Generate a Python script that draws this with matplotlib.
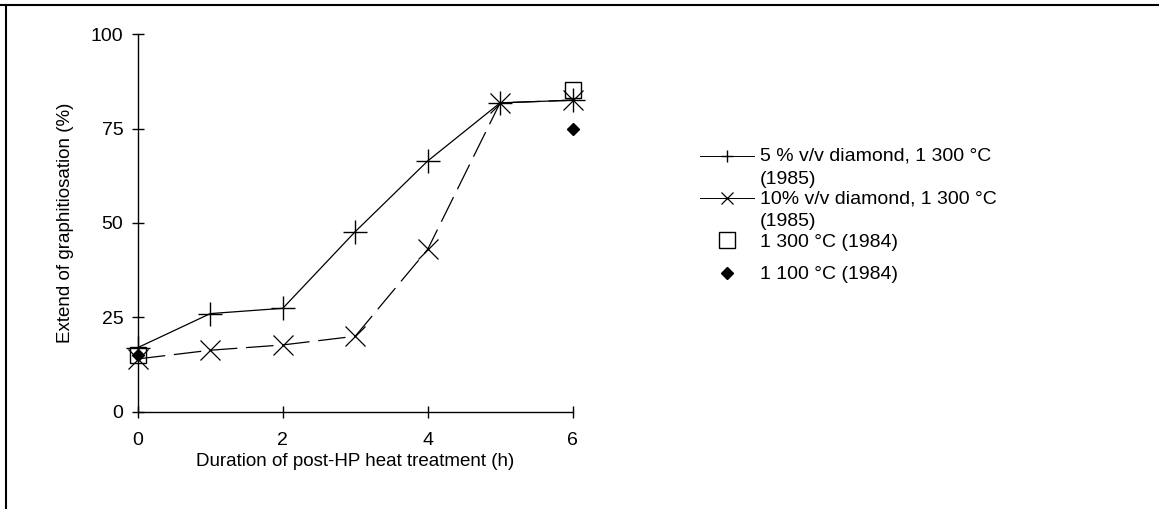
import matplotlib
matplotlib.use('Agg')
import matplotlib.pyplot as plt
import numpy as np
from matplotlib.lines import Line2D
from matplotlib.legend_handler import HandlerLine2D

plt.rcParams['font.family'] = ['Liberation Sans', 'DejaVu Sans']

# duration of post-HP heat treatment (h)
hours = [0, 1, 2, 3, 4, 5, 6]
# extent of graphitisation (%)
pct_5 = [17, 26, 27.4, 47.7, 66.4, 81.8, 82.5]
pct_10 = [14, 16.3, 17.7, 20, 43, 81.8, 82.5]
hours_1984 = [0, 6]
pct_1300_1984 = [15, 85.2]
pct_1100_1984 = [15, 74.8]

labels = ['5 % v/v diamond, 1 300 °C\n(1985)',
          '10% v/v diamond, 1 300 °C\n(1985)',
          '1 300 °C (1984)',
          '1 100 °C (1984)']


class FirstLineHandler(HandlerLine2D):
    # put the handle next to the first line of a two line label
    def create_artists(self, legend, orig_handle, xdescent, ydescent, width, height, fontsize, trans):
        arts = super().create_artists(legend, orig_handle, xdescent, ydescent, width, height,
                                      fontsize, trans)
        for a in arts:
            a.set_ydata(np.asarray(a.get_ydata(), dtype=float) + 0.6 * fontsize)
        return arts


fig = plt.figure(figsize=(11.59, 5.09), dpi=100)
ax = fig.add_axes([0.119, 0.191, 0.375, 0.742])

l5, = ax.plot(hours, pct_5, color='black', lw=0.9, marker='+', ms=17, mew=1.0, clip_on=False,
              label=labels[0])
l10, = ax.plot(hours, pct_10, color='black', lw=0.9, ls=(0, (22, 7)), marker='x', ms=15, mew=0.9,
               clip_on=False, label=labels[1])
sq, = ax.plot(hours_1984, pct_1300_1984, ls='none', marker='s', ms=11, mfc='none', mec='black',
              mew=1.0, clip_on=False, label=labels[2])
dm, = ax.plot(hours_1984, pct_1100_1984, ls='none', marker='D', ms=6, color='black',
              clip_on=False, label=labels[3])

ax.set_xlim(0, 6)
ax.set_ylim(0, 100)
ax.set_xticks([0, 2, 4, 6])
ax.set_yticks([0, 25, 50, 75, 100])
for s in ['top', 'right']:
    ax.spines[s].set_visible(False)
for s in ['left', 'bottom']:
    ax.spines[s].set_linewidth(1.0)
ax.tick_params(direction='inout', length=9, width=1.0, labelsize=14)
ax.tick_params(axis='x', pad=10)
ax.tick_params(axis='y', pad=6)
ax.set_xlabel('Duration of post-HP heat treatment (h)', fontsize=13.5, labelpad=3)
ax.set_ylabel('Extend of graphitiosation (%)', fontsize=13.5, labelpad=12)

hmap = {l5: FirstLineHandler(), l10: FirstLineHandler()}
leg = ax.legend([l5, l10, sq], labels[:3], handler_map=hmap, loc='upper left',
                bbox_to_anchor=(0.597, 0.725), bbox_transform=fig.transFigure,
                frameon=False, fontsize=14, handlelength=2.8, handletextpad=0.3,
                labelspacing=0.15, borderaxespad=0)
for t in leg.get_texts():
    t.set_linespacing(1.45)
for h in leg.legend_handles[:2]:
    h.set_markersize(9)
    h.set_linestyle('-')
    h.set_linewidth(0.7)
ax.add_artist(leg)
ax.legend([dm], labels[3:], loc='upper left', bbox_to_anchor=(0.597, 0.493),
          bbox_transform=fig.transFigure, frameon=False, fontsize=14, handlelength=2.8,
          handletextpad=0.3, borderaxespad=0)

# border of the original figure frame
fig.add_artist(Line2D([0, 1], [0.99, 0.99], transform=fig.transFigure, color='black', lw=1.5))
fig.add_artist(Line2D([0.005, 0.005], [0, 0.99], transform=fig.transFigure, color='black', lw=1.5))

fig.savefig('out.png', dpi=100)
